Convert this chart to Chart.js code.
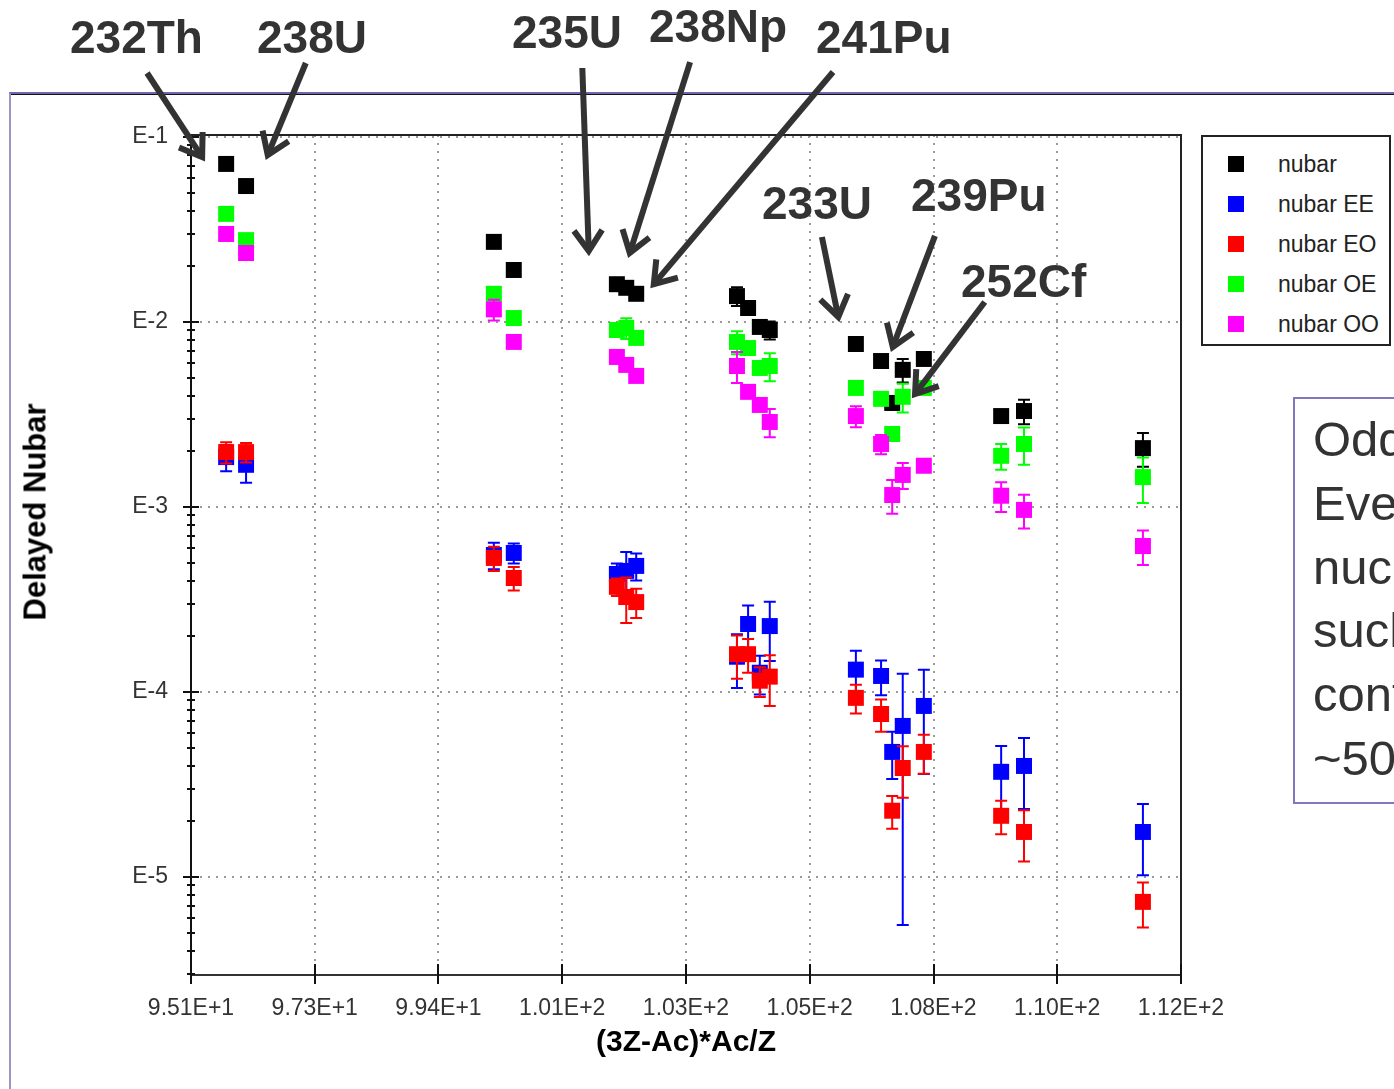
<!DOCTYPE html>
<html lang="en">
<head>
<meta charset="UTF-8">
<title>Delayed Nubar</title>
<script src="https://cdn.jsdelivr.net/npm/chart.js@4.4.1/dist/chart.umd.min.js"></script>
<style>
  html, body { margin: 0; padding: 0; background: #fff; overflow: hidden; }
  body { width: 1394px; height: 1089px; position: relative; font-family: 'Liberation Sans', Arial, sans-serif; }
  #chart { position: absolute; left: 0; top: 0; }
  .frame { position: absolute; left: 9px; top: 92px; width: 1400px; height: 1010px;
           border-top: 2px solid #6f66b4; border-left: 2px solid #9a96c8; box-shadow: inset 0 1px 0 #111; }
  .lbl { position: absolute; font-weight: bold; font-size: 46px; line-height: 46px; color: #333; white-space: nowrap; }
  .ytitle { position: absolute; left: 35px; top: 512px; transform: translate(-50%, -50%) rotate(-90deg);
            font-weight: bold; font-size: 31px; line-height: 31px; color: #000; white-space: nowrap; }
  .legend { position: absolute; left: 1201px; top: 135px; width: 186px; height: 207px; border: 2px solid #222; background: #fff; }
  .legend .row { position: absolute; left: 0; width: 100%; height: 24px; }
  .legend .sw { position: absolute; left: 25px; top: 4px; width: 16px; height: 16px; }
  .legend .tx { position: absolute; left: 75px; top: 0; font-size: 23px; line-height: 24px; color: #222; white-space: nowrap; }
  .note { position: absolute; left: 1293px; top: 397px; width: 400px; height: 394px; border: 2px solid #8078bf;
          padding: 9px 0 0 18px; font-size: 49px; line-height: 63.8px; color: #333; white-space: nowrap; }
</style>
</head>
<body>
<div class="frame"></div>
<canvas id="chart" width="1394" height="1089"></canvas>

<div class="ytitle">Delayed Nubar</div>

<div class="lbl" style="left:70px; top:14px;">232Th</div>
<div class="lbl" style="left:257px; top:14px;">238U</div>
<div class="lbl" style="left:512px; top:9px;">235U</div>
<div class="lbl" style="left:649px; top:3px;">238Np</div>
<div class="lbl" style="left:816px; top:14px;">241Pu</div>
<div class="lbl" style="left:762px; top:180px;">233U</div>
<div class="lbl" style="left:911px; top:172px;">239Pu</div>
<div class="lbl" style="left:961px; top:258px;">252Cf</div>

<div class="legend" id="legend"></div>

<div class="note">Odd-Odd and<br>Even-Even<br>nuclides<br>such as<br>contribute<br>~50%</div>

<script>
// x position of each fissioning nuclide, (3Z-Ac)*Ac/Z
const xValues = [95.70, 96.04, 100.27, 100.61, 102.37, 102.53, 102.70, 104.42, 104.61, 104.81,
                 104.98, 106.45, 106.88, 107.07, 107.25, 107.61, 108.93, 109.32, 111.35];

const nubar    = [0.0715, 0.0543, 0.0271, 0.0191, 0.0160, 0.0153, 0.0142, 0.0138, 0.0119, 0.0094,
                  0.00905, 0.0076, 0.00615, 0.00365, 0.00551, 0.00631, 0.0031, 0.0033, 0.00208];
const nubarErr = [0, 0, 0, 0, 0, 0, 0, 0.0016, 0, 0, 0.001, 0, 0, 0.0003, 0.0008, 0, 0, 0.0005, 0.00043];

const nubarEE    = [0.00186, 0.00169, 0.00055, 0.000564, 0.000434, 0.000451, 0.00048, 0.000155, 0.000233, 0.000127,
                    0.000227, 0.000132, 0.000122, 0.0000474, 0.0000655, 0.000084, 0.000037, 0.0000398, 0.0000175];
const nubarEEErr = [0.0003, 0.00034, 0.00009, 0.00007, 0.00006, 0.00012, 0.00008, 0.00005, 0.00006, 0.00003,
                    0.00008, 0.000035, 0.000026, 0.0000136, 0.00006, 0.000048, 0.000014, 0.0000165, 0.0000073];

const nubarEO    = [0.00198, 0.00198, 0.00053, 0.000413, 0.00037, 0.000326, 0.000306, 0.00016, 0.00016, 0.000115,
                    0.000121, 0.0000929, 0.000076, 0.0000228, 0.0000388, 0.0000474, 0.0000214, 0.0000175, 0.00000733];
const nubarEOErr = [0.00026, 0.00024, 0.00008, 0.00006, 0.00004, 0.00009, 0.000055, 0.000042, 0.000033, 0.000021,
                    0.000037, 0.0000165, 0.000015, 0.0000046, 0.000012, 0.0000113, 0.0000044, 0.0000054, 0.000002];

const nubarOE    = [0.0384, 0.0277, 0.0142, 0.0105, 0.00905, 0.00928, 0.0082, 0.0078, 0.00723, 0.00564,
                    0.00578, 0.0044, 0.00384, 0.00248, 0.00394, 0.0044, 0.00189, 0.00219, 0.00145];
const nubarOEErr = [0, 0, 0, 0, 0, 0.0012, 0, 0.0011, 0, 0, 0.001, 0, 0, 0, 0.0007, 0, 0.0003, 0.0005, 0.0004];

const nubarOO    = [0.0299, 0.0236, 0.0117, 0.0078, 0.00647, 0.00586, 0.00511, 0.00578, 0.00419, 0.00356,
                    0.00288, 0.0031, 0.00219, 0.00116, 0.00149, 0.00167, 0.00115, 0.000964, 0.000615];
const nubarOOErr = [0, 0, 0.0015, 0, 0, 0, 0, 0.0011, 0, 0, 0.0005, 0.0004, 0.00026, 0.00024, 0.00024, 0,
                    0.00021, 0.0002, 0.00013];

const xTickLabels = ['9.51E+1', '9.73E+1', '9.94E+1', '1.01E+2', '1.03E+2', '1.05E+2', '1.08E+2', '1.10E+2', '1.12E+2'];
const yDecades    = [1e-1, 1e-2, 1e-3, 1e-4, 1e-5];
const yTickLabels = ['E-1', 'E-2', 'E-3', 'E-4', 'E-5'];

// arrows from label to point group: [tail x, tail y, tip x, tip y] in axis units
const arrows = [
  [94.35, 0.2218, 95.29, 0.0780],   // 232Th
  [97.06, 0.2512, 96.41, 0.0799],   // 238U
  [101.78, 0.236, 101.89, 0.0242],  // 235U
  [103.62, 0.254, 102.59, 0.0236],  // 238Np
  [106.06, 0.2244, 103.00, 0.0160], // 241Pu
  [105.87, 0.0288, 106.15, 0.01064],// 233U
  [107.80, 0.0292, 107.08, 0.00733],// 239Pu
  [108.65, 0.01282, 107.46, 0.00408]// 252Cf
];

const X_MIN = 95.1, X_MAX = 112.0;
const isDecade = v => yDecades.some(d => Math.abs(v / d - 1) < 1e-6);

function series(label, values, errors, color, order) {
  return {
    label: label,
    data: xValues.map((x, i) => ({ x: x, y: values[i] })),
    errors: errors,
    backgroundColor: color,
    borderColor: color,
    borderWidth: 0,
    pointStyle: 'rect',
    pointRadius: 11.3,
    showLine: false,
    order: order
  };
}

const datasets = [
  series('nubar', nubar, nubarErr, '#000000', 5),
  series('nubar EE', nubarEE, nubarEEErr, '#0000ff', 4),
  series('nubar EO', nubarEO, nubarEOErr, '#ff0000', 3),
  series('nubar OE', nubarOE, nubarOEErr, '#00ff00', 2),
  series('nubar OO', nubarOO, nubarOOErr, '#ff00ff', 1)
];

// vertical error bars with caps, drawn right after their own dataset
const errorBars = {
  id: 'errorBars',
  afterDatasetDraw(chart, args) {
    const ds = chart.data.datasets[args.index];
    const y = chart.scales.y, ctx = chart.ctx;
    ctx.save();
    ctx.strokeStyle = ds.backgroundColor;
    ctx.lineWidth = 2;
    args.meta.data.forEach((pt, i) => {
      const e = ds.errors[i];
      if (!e) return;
      const v = ds.data[i].y;
      const top = y.getPixelForValue(v + e);
      const bot = v - e > 0 ? Math.min(y.getPixelForValue(v - e), y.bottom) : y.bottom;
      ctx.beginPath();
      ctx.moveTo(pt.x, top); ctx.lineTo(pt.x, bot);
      ctx.moveTo(pt.x - 6, top); ctx.lineTo(pt.x + 6, top);
      ctx.moveTo(pt.x - 6, bot); ctx.lineTo(pt.x + 6, bot);
      ctx.stroke();
    });
    ctx.restore();
  }
};

// plot frame, crossing tick marks and the annotation arrows
const decorations = {
  id: 'decorations',
  afterDraw(chart) {
    const { ctx, chartArea: a, scales: { x, y } } = chart;
    ctx.save();
    ctx.strokeStyle = '#222';
    ctx.lineWidth = 2;
    ctx.beginPath();
    ctx.moveTo(a.left, a.top); ctx.lineTo(a.right, a.top); ctx.lineTo(a.right, a.bottom);
    ctx.stroke();

    ctx.lineWidth = 2;
    ctx.strokeStyle = '#111';
    ctx.beginPath();
    y.ticks.forEach(t => {
      const py = Math.round(y.getPixelForValue(t.value));
      const len = isDecade(t.value) ? 8 : 4;
      ctx.moveTo(a.left - len, py); ctx.lineTo(a.left + len, py);
    });
    x.ticks.forEach(t => {
      const px = Math.round(x.getPixelForValue(t.value));
      ctx.moveTo(px, a.bottom - 11); ctx.lineTo(px, a.bottom + 9);
    });
    ctx.stroke();

    ctx.strokeStyle = '#333';
    ctx.lineWidth = 6;
    ctx.lineJoin = 'miter';
    arrows.forEach(([x1, y1, x2, y2]) => {
      const p1x = x.getPixelForValue(x1), p1y = y.getPixelForValue(y1);
      const p2x = x.getPixelForValue(x2), p2y = y.getPixelForValue(y2);
      const ang = Math.atan2(p2y - p1y, p2x - p1x), L = 25, s = 0.6;
      ctx.beginPath();
      ctx.moveTo(p1x, p1y); ctx.lineTo(p2x - 2 * Math.cos(ang), p2y - 2 * Math.sin(ang));
      ctx.stroke();
      ctx.beginPath();
      ctx.moveTo(p2x - L * Math.cos(ang - s), p2y - L * Math.sin(ang - s));
      ctx.lineTo(p2x, p2y);
      ctx.lineTo(p2x - L * Math.cos(ang + s), p2y - L * Math.sin(ang + s));
      ctx.stroke();
    });
    ctx.restore();
  }
};

new Chart(document.getElementById('chart'), {
  type: 'scatter',
  data: { datasets: datasets },
  options: {
    responsive: false,
    animation: false,
    events: [],
    layout: { padding: { left: 10, top: 135, right: 213, bottom: 0 } },
    plugins: { legend: { display: false }, tooltip: { enabled: false } },
    scales: {
      x: {
        type: 'linear',
        min: X_MIN,
        max: X_MAX,
        afterBuildTicks: scale => {
          scale.ticks = xTickLabels.map((l, i) => ({ value: X_MIN + i * (X_MAX - X_MIN) / (xTickLabels.length - 1) }));
        },
        afterFit: scale => { scale.height = 114; },
        ticks: {
          autoSkip: false,
          maxRotation: 0,
          padding: 20,
          color: '#333',
          font: { family: "'Liberation Sans', Arial, sans-serif", size: 23 },
          callback: (v, i) => xTickLabels[i]
        },
        grid: {
          drawTicks: false,
          lineWidth: 2,
          color: c => (c.index > 0 && c.index < xTickLabels.length - 1) ? '#9a9a9a' : 'rgba(0,0,0,0)'
        },
        border: { color: '#333', width: 2, dash: [2, 6] },
        title: {
          display: true,
          text: '(3Z-Ac)*Ac/Z',
          color: '#000',
          padding: { bottom: 28 },
          font: { family: "'Liberation Sans', Arial, sans-serif", size: 30, weight: 'bold' }
        }
      },
      y: {
        type: 'logarithmic',
        min: 2.95e-6,
        max: 0.1025,
        afterBuildTicks: scale => {
          const t = [];
          for (let e = -6; e <= -1; e++) {
            for (let m = 1; m <= 9; m++) {
              const v = m * Math.pow(10, e);
              if (v >= scale.min && v <= scale.max) t.push({ value: v });
            }
          }
          scale.ticks = t;
        },
        afterFit: scale => { scale.width = 181; },
        ticks: {
          autoSkip: false,
          padding: 23,
          color: '#333',
          font: { family: "'Liberation Sans', Arial, sans-serif", size: 23 },
          callback: v => {
            const i = yDecades.findIndex(d => Math.abs(v / d - 1) < 1e-6);
            return i >= 0 ? yTickLabels[i] : '';
          }
        },
        grid: {
          drawTicks: false,
          lineWidth: 2,
          color: c => (c.tick && isDecade(c.tick.value)) ? '#9a9a9a' : 'rgba(0,0,0,0)'
        },
        border: { color: '#111', width: 2, dash: [2, 6] },
        title: { display: false }
      }
    }
  },
  plugins: [errorBars, decorations]
});

// legend box built from the datasets
const legend = document.getElementById('legend');
datasets.forEach((ds, i) => {
  const row = document.createElement('div');
  row.className = 'row';
  row.style.top = (15 + i * 40) + 'px';
  row.innerHTML = '<span class="sw" style="background:' + ds.backgroundColor + '"></span><span class="tx">' + ds.label + '</span>';
  legend.appendChild(row);
});
</script>
</body>
</html>
